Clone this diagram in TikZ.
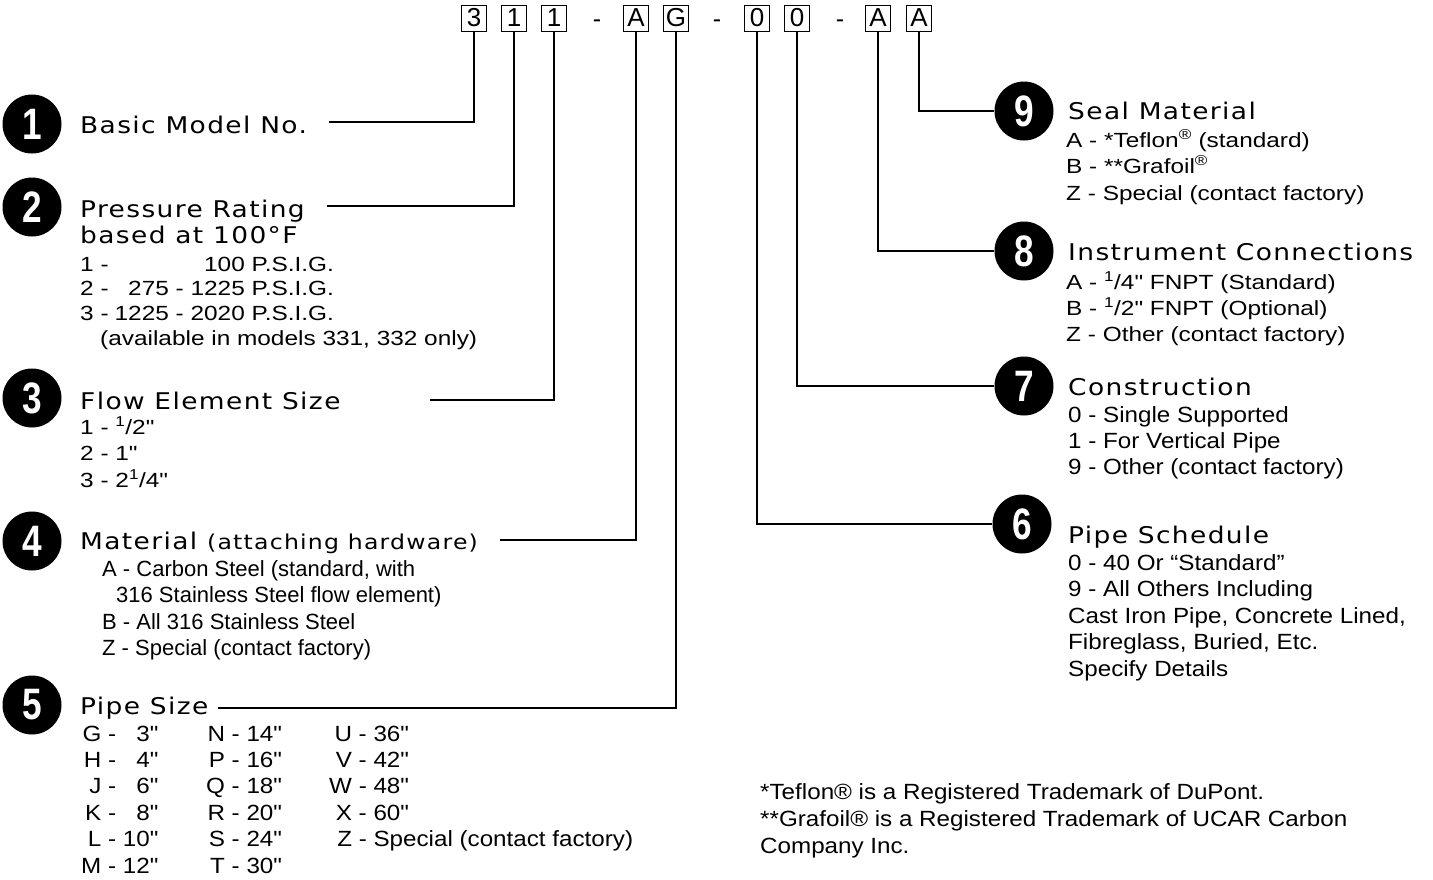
\documentclass[tikz,border=0pt]{standalone}
\usepackage{fontspec}
\setmainfont{Liberation Sans}
\newfontfamily\headfont[FakeStretch=1.15,LetterSpace=6]{DejaVu Sans}
\newfontfamily\widefont[FakeStretch=1.19]{Liberation Sans}
\newfontfamily\narrowfont[FakeStretch=1.1]{Liberation Sans}
\newfontfamily\matfont[FakeStretch=1.0]{Liberation Sans}
\newfontfamily\numfont[FakeStretch=0.8]{Liberation Sans}
\newcommand{\rows}[1]{\begin{tabular}[t]{@{}l@{}}#1\end{tabular}}
\tikzset{
 conn/.style={line width=2pt},
 codebox/.style={draw, line width=1pt, minimum width=25pt, minimum height=26pt, inner sep=0pt, font=\fontsize{26}{26}\selectfont},
 dashlbl/.style={anchor=base, inner sep=0pt, font=\fontsize{25}{25}\selectfont},
 numdot/.style={circle, fill=black, minimum size=59pt, inner sep=0pt, text=white, font=\numfont\bfseries\fontsize{44}{44}\selectfont},
 head/.style={anchor=base west, inner sep=0pt, font=\headfont\fontsize{23}{26}\selectfont},
 wide/.style={anchor=base west, inner sep=0pt, font=\widefont\fontsize{20.5}{#1}\selectfont},
 wide/.default=26.5,
 narrow/.style={anchor=base west, inner sep=0pt, font=\narrowfont\fontsize{22}{#1}\selectfont},
 narrow/.default=26.5,
}
\begin{document}
\begin{tikzpicture}[x=1pt,y=-1pt]
\useasboundingbox (0,0) rectangle (1433,879);
% code boxes
\node[codebox] (c1) at (474,18) {3};
\node[codebox] (c2) at (514,18) {1};
\node[codebox] (c3) at (554,18) {1};
\node[dashlbl] (d1) at (597,27) {-};
\node[codebox] (c4) at (636,18) {A};
\node[codebox] (c5) at (676,18) {G};
\node[dashlbl] (d2) at (717,27) {-};
\node[codebox] (c6) at (757,18) {0};
\node[codebox] (c7) at (797,18) {0};
\node[dashlbl] (d3) at (840,27) {-};
\node[codebox] (c8) at (878,18) {A};
\node[codebox] (c9) at (919,18) {A};
% number dots
\node[numdot] (n1) at (32,124) {1};
\node[numdot] (n2) at (32,207) {2};
\node[numdot] (n3) at (32,398) {3};
\node[numdot] (n4) at (32,541) {4};
\node[numdot] (n5) at (32,705) {5};
\node[numdot] (n9) at (1024,111) {9};
\node[numdot] (n8) at (1024,251) {8};
\node[numdot] (n7) at (1024,386) {7};
\node[numdot] (n6) at (1022,524) {6};
% left headings and items
\node[head] (h1) at (80,133) {Basic Model No.};
\node[head] (h2) at (80,217) {\rows{Pressure Rating\\based at 100°F}};
\node[wide=24.7] (t2) at (80,271) {\begin{tabular}[t]{@{}l@{\hspace{6pt}}r@{}}
1 - & 100 P.S.I.G.\\
2 - & 275 - 1225 P.S.I.G.\\
3 - & 1225 - 2020 P.S.I.G.\\
\multicolumn{2}{@{}l@{}}{\rlap{\hspace{20pt}(available in models 331, 332 only)}}
\end{tabular}};
\node[head] (h3) at (80,409) {Flow Element Size};
\node[wide] (t3) at (80,434) {\rows{1 - \textsuperscript{1}/2"\\2 - 1"\\3 - 2\textsuperscript{1}/4"}};
\node[head] (h4) at (80,549) {Material {\fontsize{20.5}{20.5}\selectfont(attaching hardware)}};
\node[narrow=26.6, font=\matfont\fontsize{22}{26.6}\selectfont] (t4) at (102,576) {\rows{A - Carbon Steel (standard, with\\
\hspace{14pt}316 Stainless Steel flow element)\\B - All 316 Stainless Steel\\Z - Special (contact factory)}};
\node[head] (h5) at (80,714) {Pipe Size};
\node[narrow=26.4] (t5a) at (81,741) {\begin{tabular}[t]{@{}r@{ - }r@{}}
G & 3"\\ H & 4"\\ J & 6"\\ K & 8"\\ L & 10"\\ M & 12"\end{tabular}};
\node[narrow=26.4] (t5b) at (206,741) {\begin{tabular}[t]{@{}r@{ - }l@{}}
N & 14"\\ P & 16"\\ Q & 18"\\ R & 20"\\ S & 24"\\ T & 30"\end{tabular}};
\node[narrow=26.4] (t5c) at (329,741) {\begin{tabular}[t]{@{}r@{ - }l@{}}
U & 36"\\ V & 42"\\ W & 48"\\ X & 60"\\ Z & Special (contact factory)\end{tabular}};
% right headings and items
\node[head] (h9) at (1068,119) {Seal Material};
\node[wide] (t9) at (1066,147) {\rows{A - *Teflon\textsuperscript{®} (standard)\\B - **Grafoil\textsuperscript{®}\\Z - Special (contact factory)}};
\node[head] (h8) at (1068,260) {Instrument Connections};
\node[wide=26.2] (t8) at (1066,289) {\rows{A - \textsuperscript{1}/4" FNPT (Standard)\\B - \textsuperscript{1}/2" FNPT (Optional)\\Z - Other (contact factory)}};
\node[head] (h7) at (1068,395) {Construction};
\node[narrow=26.3] (t7) at (1068,422) {\rows{0 - Single Supported\\1 - For Vertical Pipe\\9 - Other (contact factory)}};
\node[head] (h6) at (1068,543) {Pipe Schedule};
\node[narrow=26.5] (t6) at (1068,570) {\rows{0 - 40 Or “Standard”\\9 - All Others Including\\Cast Iron Pipe, Concrete Lined,\\Fibreglass, Buried, Etc.\\Specify Details}};
\node[narrow=27] (fn) at (760,799) {\rows{*Teflon® is a Registered Trademark of DuPont.\\\relax**Grafoil® is a Registered Trademark of UCAR Carbon\\Company Inc.}};
% connectors
\coordinate (e1) at (329,122);
\coordinate (e2) at (327,206);
\coordinate (e3) at (430,400);
\coordinate (e4) at (500,540);
\coordinate (e5) at (218,708);
\draw[conn] (c1.south) |- (e1);
\draw[conn] (c2.south) |- (e2);
\draw[conn] (c3.south) |- (e3);
\draw[conn] (c4.south) |- (e4);
\draw[conn] (c5.south) |- (e5);
\draw[conn] (c6.south) |- (n6.west);
\draw[conn] (c7.south) |- (n7.west);
\draw[conn] (c8.south) |- (n8.west);
\draw[conn] (c9.south) |- (n9.west);
\end{tikzpicture}
\end{document}
